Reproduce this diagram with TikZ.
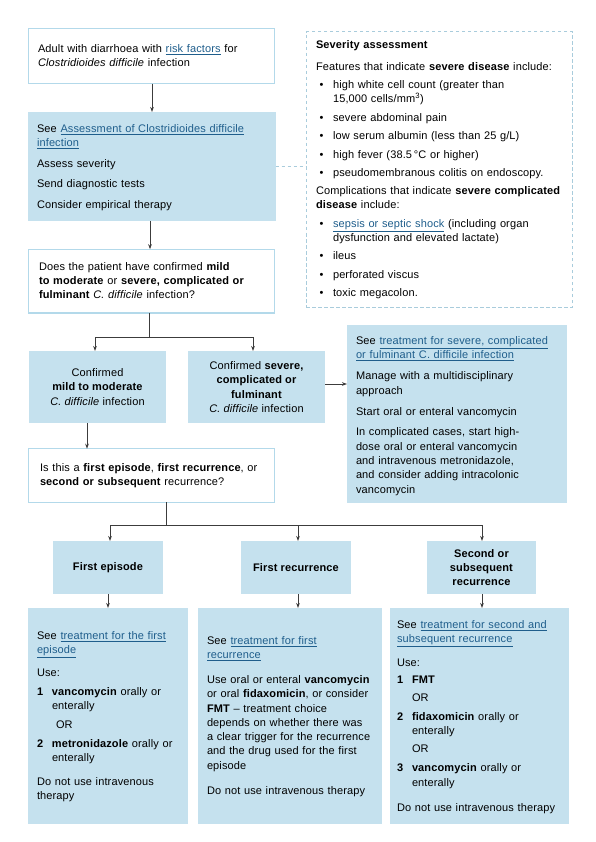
\documentclass[tikz,border=0pt]{standalone}
\usepackage{fontspec}
\setmainfont[LetterSpace=1.2]{Liberation Sans}
\usetikzlibrary{arrows.meta,calc}
\definecolor{boxc}{HTML}{C5E1EE}
\definecolor{bordc}{HTML}{B3D9EA}
\definecolor{dashc}{HTML}{A9CCDC}
\definecolor{linkc}{HTML}{1F5E8C}
\definecolor{arrc}{HTML}{3C3C3C}
\newcommand\lnk[1]{\textcolor{linkc}{\underline{#1}}}
\newcommand\bul{\makebox[17pt][l]{\hspace{3.5pt}•}}
\newcommand\ind{\hspace*{17pt}}
\newcommand\numi[1]{\makebox[15pt][l]{\textbf{#1}}}
\newcommand\nind{\hspace*{15pt}}
\begin{document}
\begin{tikzpicture}[x=1pt,y=-1pt,
  wbox/.style={draw=bordc,line width=1.4pt,fill=white,anchor=north west,inner sep=0pt,outer sep=0pt},
  bbox/.style={fill=boxc,draw=none,anchor=north west,inner sep=0pt,outer sep=0pt},
  dbox/.style={draw=dashc,line width=1pt,dash pattern=on 3.5pt off 2.5pt,anchor=north west,inner sep=0pt,outer sep=0pt},
  txt/.style={anchor=base west,inner sep=0pt,outer sep=0pt,align=left,text width=265pt,font=\fontsize{11}{14.3}\selectfont},
  ctr/.style={align=center,font=\fontsize{11}{14.3}\selectfont},
  ln/.style={draw=arrc,line width=0.8pt},
  arr/.style={ln,-{Stealth[length=5pt,width=3.6pt]}},
  dln/.style={draw=dashc,line width=1pt,dash pattern=on 3.5pt off 2.5pt}]
\useasboundingbox (0,0) rectangle (595,842);
\fill[white] (0,0) rectangle (595,842);

% boxes
\node[wbox,minimum width=245.6pt,minimum height=55pt] (b1) at (28.7,28.7) {};
\node[bbox,minimum width=248pt,minimum height=109pt] (b2) at (27.5,112) {};
\node[wbox,minimum width=245.6pt,minimum height=63.6pt] (b3) at (28.7,249.2) {};
\node[bbox,minimum width=137pt,minimum height=72pt,ctr] (b4) at (29,351) {Confirmed\\\textbf{mild to moderate}\\\textit{C. difficile} infection};
\node[bbox,minimum width=137pt,minimum height=72pt,ctr] (b5) at (188,351) {Confirmed \textbf{severe,}\\\textbf{complicated or}\\\textbf{fulminant}\\\textit{C. difficile} infection};
\node[bbox,minimum width=220pt,minimum height=178pt] (b6) at (347,325) {};
\node[wbox,minimum width=245.6pt,minimum height=53.6pt] (b7) at (28.7,448.7) {};
\node[dbox,minimum width=266pt,minimum height=275pt] (sev) at (306,32) {};
\node[bbox,minimum width=110pt,minimum height=53pt,ctr] (l1) at (53,541) {\textbf{First episode}};
\node[bbox,minimum width=110pt,minimum height=53pt,ctr] (l2) at (241,541) {\textbf{First recurrence}};
\node[bbox,minimum width=109pt,minimum height=53pt,ctr] (l3) at (427,541) {\textbf{Second or}\\\textbf{subsequent}\\\textbf{recurrence}};
\node[bbox,minimum width=160pt,minimum height=216pt] (t1) at (28,608) {};
\node[bbox,minimum width=184pt,minimum height=216pt] (t2) at (198,608) {};
\node[bbox,minimum width=179pt,minimum height=216pt] (t3) at (390,608) {};

% texts
\node[txt] (x1) at (38,52.5) {Adult with diarrhoea with \lnk{risk factors} for\\
\textit{Clostridioides difficile} infection};

\node[txt] (x2) at (37,132.6) {See \lnk{Assessment of Clostridioides difficile}\\
\lnk{infection}\\[6pt]
Assess severity\\[6.5pt]
Send diagnostic tests\\[6pt]
Consider empirical therapy};

\node[txt] (x3) at (39,270) {Does the patient have confirmed \textbf{mild}\\
\textbf{to moderate} or \textbf{severe, complicated or}\\
\textbf{fulminant} \textit{C. difficile} infection?};

\node[txt] (xs) at (316,48.3) {\textbf{Severity assessment}\\[7.5pt]
Features that indicate \textbf{severe disease} include:\\[4pt]
\bul high white cell count (greater than\\
\ind 15,000 cells/mm\textsuperscript{3})\\[4.5pt]
\bul severe abdominal pain\\[4pt]
\bul low serum albumin (less than 25 g/L)\\[4pt]
\bul high fever (38.5\,°C or higher)\\[4pt]
\bul pseudomembranous colitis on endoscopy.\\[4pt]
Complications that indicate \textbf{severe complicated}\\
\textbf{disease} include:\\[4pt]
\bul \lnk{sepsis or septic shock} (including organ\\
\ind dysfunction and elevated lactate)\\[4pt]
\bul ileus\\[4pt]
\bul perforated viscus\\[4pt]
\bul toxic megacolon.};

\node[txt] (x6) at (356,344.3) {See \lnk{treatment for severe, complicated}\\
\lnk{or fulminant C. difficile infection}\\[7pt]
Manage with a multidisciplinary\\
approach\\[6.5pt]
Start oral or enteral vancomycin\\[6.5pt]
In complicated cases, start high-\\
dose oral or enteral vancomycin\\
and intravenous metronidazole,\\
and consider adding intracolonic\\
vancomycin};

\node[txt] (x7) at (40,471.5) {Is this a \textbf{first episode}, \textbf{first recurrence}, or\\
\textbf{second or subsequent} recurrence?};

\node[txt] (xa) at (37,639.3) {See \lnk{treatment for the first}\\
\lnk{episode}\\[8.7pt]
Use:\\[4.7pt]
\numi{1}\textbf{vancomycin} orally or\\
\nind enterally\\[4.7pt]
\hspace*{19pt}OR\\[4pt]
\numi{2}\textbf{metronidazole} orally or\\
\nind enterally\\[9.7pt]
Do not use intravenous\\
therapy};

\node[txt] (xb) at (207,644.3) {See \lnk{treatment for first}\\
\lnk{recurrence}\\[10.5pt]
Use oral or enteral \textbf{vancomycin}\\
or oral \textbf{fidaxomicin}, or consider\\
\textbf{FMT} – treatment choice\\
depends on whether there was\\
a clear trigger for the recurrence\\
and the drug used for the first\\
episode\\[10.5pt]
Do not use intravenous therapy};

\node[txt] (xc) at (397,628.3) {See \lnk{treatment for second and}\\
\lnk{subsequent recurrence}\\[9.7pt]
Use:\\[2.7pt]
\numi{1}\textbf{FMT}\\[3.7pt]
\nind OR\\[4.7pt]
\numi{2}\textbf{fidaxomicin} orally or\\
\nind enterally\\[3.7pt]
\nind OR\\[4.7pt]
\numi{3}\textbf{vancomycin} orally or\\
\nind enterally\\[10.7pt]
Do not use intravenous therapy};

% connectors
\coordinate (v1) at (152,0);
\coordinate (v2) at (150,0);
\draw[arr] (b1.south -| v1) -- (b2.north -| v1);
\draw[arr] (b2.south -| v2) -- (b3.north -| v2);
\draw[dln] (b2.east) -- (b2.east -| sev.west);

\coordinate (j1) at (149,337);
\coordinate (j1l) at (95,337);
\coordinate (j1r) at (253,337);
\draw[ln] (b3.south -| j1) -- (j1);
\draw[ln] (j1l) -- (j1r);
\draw[arr] (j1l) -- (j1l |- b4.north);
\draw[arr] (j1r) -- (j1r |- b5.north);

\coordinate (h6) at (0,384);
\draw[arr] (b5.east |- h6) -- (b6.west |- h6);

\coordinate (v7) at (87,0);
\draw[arr] (b4.south -| v7) -- (b7.north -| v7);

\coordinate (j2) at (166,525);
\coordinate (j2a) at (110,525);
\coordinate (j2b) at (298,525);
\coordinate (j2c) at (482,525);
\draw[ln] (b7.south -| j2) -- (j2);
\draw[ln] (j2a) -- (j2c);
\draw[arr] (j2a) -- (j2a |- l1.north);
\draw[arr] (j2b) -- (j2b |- l2.north);
\draw[arr] (j2c) -- (j2c |- l3.north);

\coordinate (w1) at (108,0);
\draw[arr] (l1.south -| w1) -- (t1.north -| w1);
\draw[arr] (l2.south -| j2b) -- (t2.north -| j2b);
\draw[arr] (l3.south -| j2c) -- (t3.north -| j2c);
\end{tikzpicture}
\end{document}
